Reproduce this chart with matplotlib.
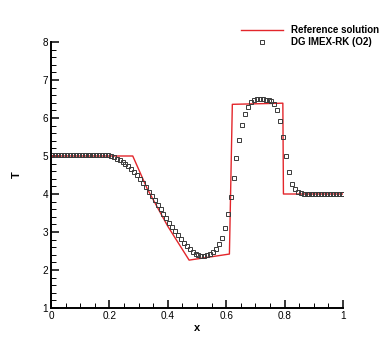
import numpy as np
import matplotlib.pyplot as plt
from matplotlib.ticker import MultipleLocator

plt.rcParams['font.family'] = ['Liberation Sans', 'DejaVu Sans']

# reference solution (piecewise)
ref_x = [0.0, 0.28, 0.33, 0.40, 0.473, 0.611, 0.621, 0.794, 0.796, 1.0]
ref_T = [5.0, 5.0, 4.13, 3.15, 2.26, 2.42, 6.36, 6.39, 4.0, 4.0]

# DG IMEX-RK (O2), cell centres
dg_x = np.arange(100) * 0.01 + 0.005
dg_T = [5.02] * 20 + [
    5.00, 4.97, 4.93, 4.89, 4.84, 4.79, 4.73, 4.66, 4.58, 4.49,
    4.39, 4.29, 4.18, 4.06, 3.94, 3.83, 3.72, 3.60, 3.48, 3.36,
    3.25, 3.13, 3.02, 2.91, 2.81, 2.72, 2.63, 2.55, 2.48, 2.43,
    2.40, 2.38, 2.38, 2.39, 2.42, 2.47, 2.55, 2.68, 2.85, 3.11,
    3.47, 3.93, 4.43, 4.95, 5.42, 5.82, 6.11, 6.30, 6.41, 6.47,
    6.50, 6.50, 6.49, 6.48, 6.47, 6.44, 6.37, 6.21, 5.93, 5.51,
    5.01, 4.59, 4.27, 4.12, 4.04, 4.02] + [4.00] * 14

fig = plt.figure(figsize=(3.9, 3.47), dpi=100)
ax = fig.add_axes([51/390, 1 - 308/347, 292/390, 266/347])

ax.plot(ref_x, ref_T, '-', color='#e3262b', lw=1.0, label='Reference solution')
ax.plot(dg_x, dg_T, 's', ms=3.4, mfc='none', mec='#3a3a3a', mew=0.7,
        label='DG IMEX-RK (O2)')

ax.set_xlim(0, 1)
ax.set_ylim(1, 8)
ax.xaxis.set_major_locator(MultipleLocator(0.2))
ax.xaxis.set_minor_locator(MultipleLocator(0.05))
ax.yaxis.set_major_locator(MultipleLocator(1))
ax.yaxis.set_minor_locator(MultipleLocator(0.2))
ax.xaxis.set_major_formatter(plt.FuncFormatter(lambda v, p: '%g' % round(v, 2)))

for s in ['top', 'right']:
    ax.spines[s].set_visible(False)
for s in ['left', 'bottom']:
    ax.spines[s].set_linewidth(1.4)
ax.tick_params(which='major', direction='in', length=6, width=1.1, labelsize=7.2, pad=2)
ax.tick_params(which='minor', direction='in', length=3.5, width=0.7)

ax.set_xlabel('x', fontsize=8, fontweight='bold', labelpad=1.5)
ax.set_ylabel('T', fontsize=8, fontweight='bold', labelpad=15)

fig.legend(loc='upper left', bbox_to_anchor=(241/390, 1 - 25/347), frameon=False,
           prop={'weight': 'bold', 'size': 7}, handlelength=4.3,
           handletextpad=0.8, labelspacing=0.25, borderpad=0, numpoints=1,
           borderaxespad=0)

fig.savefig('out.png', dpi=100)
